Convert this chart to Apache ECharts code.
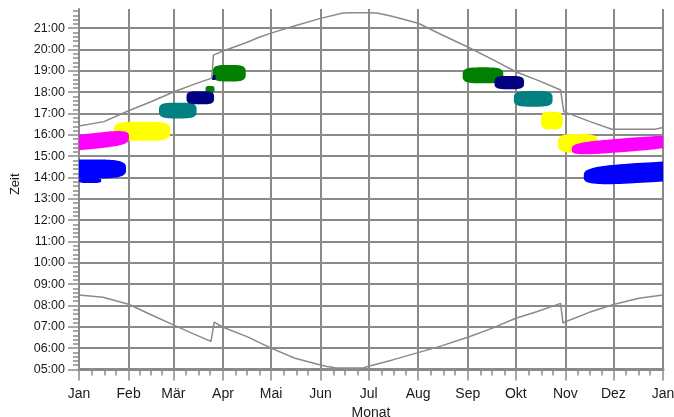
<!DOCTYPE html>
<html>
<head>
<meta charset="utf-8">
<script src="https://cdn.jsdelivr.net/npm/echarts@6/dist/echarts.min.js"></script>
<style>
html,body{margin:0;padding:0;background:#fff;}
#chart{width:674px;height:417px;}
</style>
</head>
<body>
<div id="chart"></div>
<script>
// ---------- data ----------
const monthLabels = ['Jan','Feb','Mär','Apr','Mai','Jun','Jul','Aug','Sep','Okt','Nov','Dez','Jan'];
const monthStartDays = [0,31,59,90,120,151,181,212,243,273,304,334,365];
const hourTicks = [5,6,7,8,9,10,11,12,13,14,15,16,17,18,19,20,21];

// [day of year, hour]
const sunrise = [
  [0,8.49],[15,8.39],[31,8.06],[44,7.60],[59,7.09],[71.5,6.67],[82.5,6.32],
  [84.5,7.22],[90,6.98],[105,6.54],[120,6.00],[135,5.53],[151,5.21],[155,5.14],
  [160,5.08],[170,5.07],[178,5.08],[181,5.15],[196,5.45],[212,5.79],[227,6.12],
  [243,6.51],[258,6.93],[273,7.40],[286,7.71],[301,8.10],[302.5,7.17],[304,7.24],
  [319,7.68],[334,8.05],[350,8.34],[365,8.49]
];
const sunset = [
  [0,16.42],[15.6,16.62],[31,17.13],[45,17.55],[59,18.01],[73,18.40],[83,18.66],
  [84,19.74],[90,19.93],[104.4,20.32],[113,20.59],[120,20.77],[135.6,21.13],[151,21.46],
  [165,21.71],[170,21.73],[181,21.73],[186,21.71],[195,21.57],[212,21.23],[227,20.68],
  [243,20.12],[258,19.55],[273,18.96],[288,18.52],[301,18.10],[303,17.09],[304,17.03],
  [319,16.63],[333,16.26],[348,16.26],[360,16.26],[365,16.34]
];

// blobs: [centre day, centre hour, half width (days), half height (hours), slope (hours/day)]
const yellowBlobs = [
  [39.4,16.17,17.7,0.45,0],
  [295.5,16.67,6.8,0.41,0],
  [311.9,15.60,12.5,0.44,0]
];
const magentaBlobs = [
  [10,15.72,21.25,0.37,0.008],
  [20.6,15.95,4.4,0.14,0],
  [341,15.52,33,0.32,0.006]
];
const blueBlobs = [
  [4.4,14.40,25,0.45,0],
  [6.9,13.86,7,0.12,0],
  [358,14.25,42.5,0.47,0.0045]
];
const tealBlobs = [
  [61.75,17.14,11.75,0.37,0],
  [283.9,17.69,12.1,0.37,0]
];
const greenBlobs = [
  [81.9,18.13,2.8,0.16,0],
  [93.9,18.89,10.3,0.39,0],
  [252.5,18.79,12.7,0.375,0]
];
const navyBlobs = [
  [75.8,17.74,8.6,0.31,0],
  [84.2,18.69,1.25,0.12,0],
  [268.9,18.45,9.25,0.31,0]
];

// ---------- styles ----------
const GRID = '#8a8a8a';
const TEXT = '#1a1a1a';
const FONT = "'Liberation Sans', Arial, sans-serif";
const SHAPE_EXP = 3.6;

const dayCats = Array.from({length: 366}, (_, i) => String(i));
const majorSet = new Set(monthStartDays);
const minorSet = new Set();
for (let m = 0; m < 12; m++) {
  const s = monthStartDays[m], len = monthStartDays[m + 1] - s;
  for (let k = 1; k <= 3; k++) minorSet.add(s + Math.round(len * k / 4));
}
const labelByDay = {};
monthStartDays.forEach((d, i) => { labelByDay[d] = monthLabels[i]; });

function blobSeries(data, color) {
  return {
    type: 'custom',
    xAxisIndex: 0, yAxisIndex: 0,
    clip: true,
    silent: true,
    encode: {x: 0, y: 1},
    data: data,
    renderItem: function (params, api) {
      const cd = api.value(0), ch = api.value(1), rd = api.value(2), rh = api.value(3), sl = api.value(4);
      const pts = [];
      const n = 96;
      for (let i = 0; i < n; i++) {
        const t = i / n * Math.PI * 2;
        const c = Math.cos(t), s = Math.sin(t);
        const ex = Math.sign(c) * Math.pow(Math.abs(c), 2 / SHAPE_EXP);
        const ey = Math.sign(s) * Math.pow(Math.abs(s), 2 / SHAPE_EXP);
        const d = cd + rd * ex;
        pts.push(api.coord([d, ch + rh * ey + sl * (d - cd)]));
      }
      return {type: 'polygon', shape: {points: pts}, style: {fill: color, stroke: null}};
    }
  };
}

const chart = echarts.init(document.getElementById('chart'), null, {renderer: 'canvas'});
const splitColors = hourTicks.map(() => GRID).concat(['rgba(0,0,0,0)']);

chart.setOption({
  animation: false,
  backgroundColor: '#fff',
  grid: {left: 79, right: 11, top: 9, bottom: 47.5, containLabel: false, outerBoundsMode: 'none'},
  xAxis: [
    {
      type: 'value', min: 0, max: 365, show: false, position: 'bottom'
    },
    {
      type: 'category', data: dayCats, boundaryGap: false, position: 'bottom',
      name: 'Monat', nameLocation: 'middle', nameGap: 33,
      nameTextStyle: {color: TEXT, fontFamily: FONT, fontSize: 14},
      axisLine: {show: true, onZero: false, lineStyle: {color: GRID, width: 3}},
      axisTick: {show: true, length: 11, interval: (i) => majorSet.has(i), lineStyle: {color: GRID, width: 1.5}},
      axisLabel: {
        show: true, interval: (i) => majorSet.has(i), margin: 18,
        color: TEXT, fontFamily: FONT, fontSize: 14,
        formatter: (v, i) => labelByDay[Number(v)] || ''
      },
      splitLine: {show: true, interval: (i) => majorSet.has(i), lineStyle: {color: GRID, width: 2}}
    },
    {
      type: 'category', data: dayCats, boundaryGap: false, position: 'bottom',
      axisLine: {show: false, onZero: false},
      axisTick: {show: true, length: 6, interval: (i) => minorSet.has(i), lineStyle: {color: GRID, width: 1.5}},
      axisLabel: {show: false},
      splitLine: {show: false}
    }
  ],
  yAxis: {
    type: 'value', min: 5, max: 21.9, interval: 1,
    name: 'Zeit', nameLocation: 'middle', nameGap: 57, nameRotate: 90,
    nameTextStyle: {color: TEXT, fontFamily: FONT, fontSize: 13, padding: [0, 0, 0, 10]},
    axisLine: {show: true, lineStyle: {color: GRID, width: 2}},
    axisTick: {show: true, length: 11, customValues: hourTicks, lineStyle: {color: GRID, width: 1.5}},
    minorTick: {show: true, splitNumber: 5, length: 6, lineStyle: {color: GRID, width: 1.5}},
    axisLabel: {
      show: true, margin: 14, customValues: hourTicks,
      color: TEXT, fontFamily: FONT, fontSize: 12.5,
      formatter: (v) => Number.isInteger(v) ? String(v).padStart(2, '0') + ':00' : ''
    },
    splitLine: {show: true, lineStyle: {color: splitColors, width: 2}},
    minorSplitLine: {show: false}
  },
  series: [
    blobSeries(yellowBlobs, '#ffff00'),
    blobSeries(magentaBlobs, '#ff00ff'),
    blobSeries(blueBlobs, '#0000ff'),
    blobSeries(tealBlobs, '#008080'),
    blobSeries(greenBlobs, '#008000'),
    blobSeries(navyBlobs, '#000080'),
    {
      type: 'line', xAxisIndex: 0, yAxisIndex: 0, data: sunrise,
      showSymbol: false, symbol: 'none', silent: true,
      lineStyle: {color: GRID, width: 1.5}
    },
    {
      type: 'line', xAxisIndex: 0, yAxisIndex: 0, data: sunset,
      showSymbol: false, symbol: 'none', silent: true,
      lineStyle: {color: GRID, width: 1.5}
    }
  ]
});
</script>
</body>
</html>
